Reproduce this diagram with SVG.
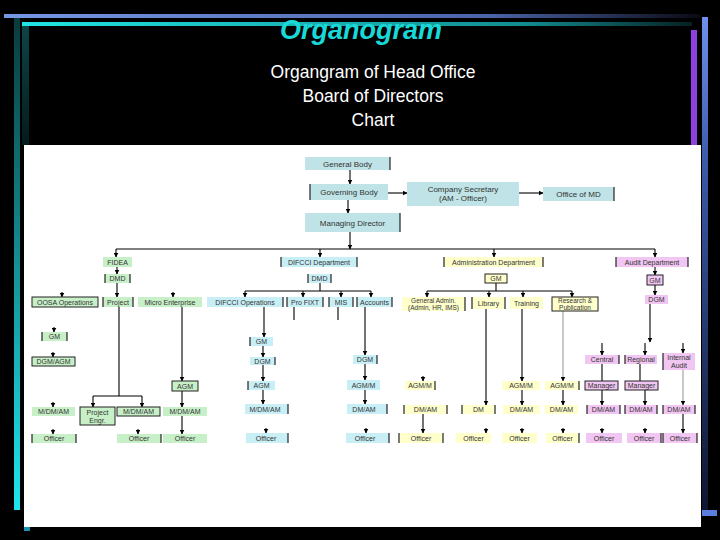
<svg xmlns="http://www.w3.org/2000/svg" width="720" height="540" viewBox="0 0 720 540">
<style>
.t{fill:#bfe3e6}.g{fill:#c8f0c8}.b{fill:#c8eef6}.y{fill:#ffffcc}.p{fill:#f2c6f2}
.bx{stroke:#222;stroke-width:1}
.e{stroke:#222;stroke-width:1.2}
text{font-family:"Liberation Sans",Arial,sans-serif}
.l{font-size:7px;fill:#333;text-anchor:middle}
.l8{font-size:8px;fill:#333;text-anchor:middle}
.l6{font-size:6.5px;fill:#333;text-anchor:middle}
.c{stroke:#000;stroke-width:1.1;fill:none}
.gr{stroke:#777;stroke-width:0.8;fill:none}
.a{marker-end:url(#ah)}
</style>
<defs>
<marker id="ah" markerWidth="5" markerHeight="5" refX="4.5" refY="2.5" orient="auto" markerUnits="userSpaceOnUse"><path d="M0,0 L5,2.5 L0,5 z" fill="#000"/></marker>
<linearGradient id="gTop" x1="0" y1="0" x2="1" y2="0"><stop offset="0" stop-color="#7597e6"/><stop offset="0.7" stop-color="#4a64a8"/><stop offset="1" stop-color="#0a0a14"/></linearGradient>
<linearGradient id="gCy" x1="0" y1="0" x2="1" y2="0"><stop offset="0" stop-color="#20e4e4"/><stop offset="0.75" stop-color="#128c90"/><stop offset="1" stop-color="#062022"/></linearGradient>
<linearGradient id="gLeft" x1="0" y1="0" x2="0" y2="1"><stop offset="0" stop-color="#0a3a3c"/><stop offset="1" stop-color="#1ee6ee"/></linearGradient>
<linearGradient id="gIn" x1="0" y1="0" x2="0" y2="1"><stop offset="0" stop-color="#0e4446"/><stop offset="1" stop-color="#051a1c"/></linearGradient>
<linearGradient id="gRight" x1="0" y1="0" x2="0" y2="1"><stop offset="0" stop-color="#6f90ec"/><stop offset="0.3" stop-color="#3a5aa8"/><stop offset="1" stop-color="#0e1630"/></linearGradient>
</defs>
<rect x="0" y="0" width="720" height="540" fill="#000"/>
<g id="frame">
<rect x="4" y="14" width="696" height="4" fill="url(#gTop)"/>
<rect x="22" y="22" width="670" height="4" fill="url(#gCy)"/>
<rect x="14" y="18" width="6" height="492" fill="url(#gLeft)"/>
<rect x="22" y="26" width="7" height="119" fill="url(#gIn)"/>
<rect x="691" y="30" width="6" height="115" fill="#9040e0"/>
<rect x="702" y="17" width="6" height="493" fill="url(#gRight)"/>
<rect x="702" y="510" width="15" height="6" fill="#5a7ee0"/>
<rect x="24" y="527" width="6" height="4" fill="#1a8fb0"/>
<rect x="24" y="145" width="677" height="382" fill="#fff"/>
</g>
<g id="titles">
<text x="361" y="39" font-family="'DejaVu Sans',Verdana,sans-serif" font-size="27" font-weight="bold" font-style="italic" fill="#19d8d8" text-anchor="middle">Organogram</text>
<text x="373" y="78" font-size="17.5" fill="#fff" text-anchor="middle">Organgram of Head Office</text>
<text x="373" y="102" font-size="17.5" fill="#fff" text-anchor="middle">Board of Directors</text>
<text x="373" y="126" font-size="17.5" fill="#fff" text-anchor="middle">Chart</text>
</g>
<g id="connectors">
<path class="c a" d="M350,170 V184"/>
<path class="c a" d="M388,193 H407"/>
<path class="c a" d="M519,193 H543"/>
<path class="c a" d="M348,200 V213"/>
<path class="c a" d="M350,232 V249"/>
<path class="c" d="M116,249 H655"/>
<path class="c a" d="M116,249 V257"/>
<path class="c a" d="M320,249 V257"/>
<path class="c a" d="M494,249 V257"/>
<path class="c a" d="M655,249 V257"/>
<path class="c a" d="M117,267 V274"/>
<path class="c a" d="M117,283 V297"/>
<path class="c a" d="M62,292 V297"/>
<path class="c a" d="M173,292 V297"/>
<path class="c" d="M320,283 V291 M245,291 H371"/>
<path class="c a" d="M245,291 V297"/>
<path class="c a" d="M303,291 V297"/>
<path class="c a" d="M341,291 V297"/>
<path class="c a" d="M371,291 V297"/>
<path class="c" d="M496,283 V291 M427,291 H572"/>
<path class="c a" d="M427,291 V297"/>
<path class="c a" d="M489,291 V297"/>
<path class="c a" d="M523,291 V297"/>
<path class="c a" d="M572,291 V297"/>
<path class="c a" d="M655,267 V275"/>
<path class="c a" d="M655,285 V295"/>
<path class="c a" d="M54,327 V332"/>
<path class="c a" d="M53,352 V357"/>
<path class="c a" d="M53,402 V407"/>
<path class="c a" d="M53,429 V434"/>
<path class="c" d="M119,307 V396 M93,396 H142"/>
<path class="c a" d="M93,396 V407"/>
<path class="c a" d="M142,396 V407"/>
<path class="c a" d="M138,429 V434"/>
<path class="c a" d="M182,307 V381"/>
<path class="c a" d="M182,391 V407"/>
<path class="c a" d="M182,416 V434"/>
<path class="c a" d="M264,307 V337"/>
<path class="c a" d="M263,346 V357"/>
<path class="c a" d="M263,365 V381"/>
<path class="c a" d="M263,390 V404"/>
<path class="c a" d="M266,428 V433"/>
<path class="c" d="M294,307 V320 M338,307 V320"/>
<path class="c a" d="M365,307 V355"/>
<path class="c a" d="M365,364 V380"/>
<path class="c a" d="M365,390 V404"/>
<path class="c a" d="M366,428 V433"/>
<path class="c a" d="M423,376 V381"/>
<path class="c a" d="M423,414 V433"/>
<path class="c a" d="M486,309 V405"/>
<path class="c a" d="M486,428 V433"/>
<path class="c a" d="M522,309 V381"/>
<path class="c a" d="M522,390 V405"/>
<path class="c a" d="M522,428 V433"/>
<path class="gr a" d="M563,311 V381"/>
<path class="c a" d="M563,390 V405"/>
<path class="c a" d="M563,428 V433"/>
<path class="c a" d="M650,304 V342"/>
<path class="c a" d="M602,343 V355"/>
<path class="c a" d="M645,343 V355"/>
<path class="c a" d="M683,343 V353"/>
<path class="c" d="M602,364 V381 M640,364 V381"/>
<path class="c a" d="M602,390 V405"/>
<path class="c a" d="M645,390 V405"/>
<path class="gr a" d="M683,370 V405"/>
<path class="c a" d="M602,428 V433"/>
<path class="c a" d="M645,428 V433"/>
<path class="c a" d="M683,414 V433"/>
</g>
<g id="n-general"><rect class="t" x="305" y="157" width="85" height="13"/><line class="e" x1="390" y1="157" x2="390" y2="170"/><text class="l8" x="347.5" y="166.5">General Body</text></g>
<g id="n-governing"><rect class="t" x="310" y="184" width="78" height="16"/><line class="e" x1="310" y1="184" x2="310" y2="200"/><text class="l8" x="349" y="195">Governing Body</text></g>
<g id="n-cs"><rect class="t" x="407" y="182" width="112" height="24"/><text class="l8" x="463" y="192">Company Secretary</text><text class="l8" x="463" y="201">(AM - Officer)</text></g>
<g id="n-omd"><rect class="t" x="543" y="187" width="71" height="14"/><line class="e" x1="614" y1="187" x2="614" y2="201"/><text class="l8" x="578.5" y="197">Office of MD</text></g>
<g id="n-md"><rect class="t" x="305" y="213" width="95" height="19"/><line class="e" x1="400" y1="213" x2="400" y2="232"/><text class="l8" x="352.5" y="225.5">Managing Director</text></g>
<g id="n-fidea"><rect class="g" x="103" y="257" width="29" height="10"/><text class="l" x="117.5" y="264.5">FIDEA</text></g>
<g id="n-difcci-dept"><rect class="b" x="281" y="257" width="76" height="10"/><line class="e" x1="281" y1="257" x2="281" y2="267"/><line class="e" x1="357" y1="257" x2="357" y2="267"/><text class="l" x="319" y="264.5">DIFCCI Department</text></g>
<g id="n-admin-dept"><rect class="y" x="444" y="257" width="99" height="10"/><line class="e" x1="444" y1="257" x2="444" y2="267"/><line class="e" x1="543" y1="257" x2="543" y2="267"/><text class="l" x="493.5" y="264.5">Administration Department</text></g>
<g id="n-audit-dept"><rect class="p" x="616" y="257" width="72" height="10"/><line class="e" x1="616" y1="257" x2="616" y2="267"/><line class="e" x1="688" y1="257" x2="688" y2="267"/><text class="l" x="652" y="264.5">Audit Department</text></g>
<g id="n-dmd-g"><rect class="g" x="105" y="274" width="25" height="9"/><line class="e" x1="105" y1="274" x2="105" y2="283"/><line class="e" x1="130" y1="274" x2="130" y2="283"/><text class="l" x="117.5" y="281">DMD</text></g>
<g id="n-dmd-b"><rect class="b" x="308" y="274" width="23" height="9"/><line class="e" x1="308" y1="274" x2="308" y2="283"/><line class="e" x1="331" y1="274" x2="331" y2="283"/><text class="l" x="319.5" y="281">DMD</text></g>
<g id="n-gm-y"><rect class="y bx" x="485" y="274" width="22" height="9"/><text class="l" x="496" y="281">GM</text></g>
<g id="n-gm-p"><rect class="p bx" x="647" y="275" width="16" height="10"/><text class="l" x="655" y="282.5">GM</text></g>
<g id="n-oosa"><rect class="g bx" x="32" y="297" width="66" height="10"/><text class="l" x="65" y="304.5">OOSA Operations</text></g>
<g id="n-project"><rect class="g" x="103" y="297" width="30" height="10"/><line class="e" x1="103" y1="297" x2="103" y2="307"/><line class="e" x1="133" y1="297" x2="133" y2="307"/><text class="l" x="118" y="304.5">Project</text></g>
<g id="n-micro"><rect class="g" x="138" y="297" width="64" height="10"/><text class="l" x="170" y="304.5">Micro Enterprise</text></g>
<g id="n-difcci-ops"><rect class="b" x="207" y="297" width="76" height="10"/><line class="e" x1="283" y1="297" x2="283" y2="307"/><text class="l" x="245" y="304.5">DIFCCI Operations</text></g>
<g id="n-profixt"><rect class="b" x="287" y="297" width="36" height="10"/><line class="e" x1="287" y1="297" x2="287" y2="307"/><line class="e" x1="323" y1="297" x2="323" y2="307"/><text class="l" x="305" y="304.5">Pro FIXT</text></g>
<g id="n-mis"><rect class="b" x="329" y="297" width="24" height="10"/><line class="e" x1="329" y1="297" x2="329" y2="307"/><line class="e" x1="353" y1="297" x2="353" y2="307"/><text class="l" x="341" y="304.5">MIS</text></g>
<g id="n-accounts"><rect class="b" x="357" y="297" width="35" height="10"/><line class="e" x1="357" y1="297" x2="357" y2="307"/><line class="e" x1="392" y1="297" x2="392" y2="307"/><text class="l" x="374.5" y="304.5">Accounts</text></g>
<g id="n-genadmin"><rect class="y" x="402" y="297" width="63" height="14"/><line class="e" x1="465" y1="297" x2="465" y2="311"/><text class="l6" x="433.5" y="303">General Admin.</text><text class="l6" x="433.5" y="310">(Admin, HR, IMS)</text></g>
<g id="n-library"><rect class="y" x="472" y="297" width="33" height="12"/><line class="e" x1="472" y1="297" x2="472" y2="309"/><line class="e" x1="505" y1="297" x2="505" y2="309"/><text class="l" x="488.5" y="305.5">Library</text></g>
<g id="n-training"><rect class="y" x="510" y="297" width="33" height="12"/><text class="l" x="526.5" y="305.5">Training</text></g>
<g id="n-research"><rect class="y bx" x="552" y="297" width="46" height="14"/><text class="l6" x="575" y="303">Research &amp;</text><text class="l6" x="575" y="310">Publication</text></g>
<g id="n-dgm-p"><rect class="p" x="645" y="295" width="23" height="9"/><text class="l" x="656.5" y="302">DGM</text></g>
<g id="n-gm-g"><rect class="g" x="42" y="332" width="25" height="9"/><line class="e" x1="42" y1="332" x2="42" y2="341"/><line class="e" x1="67" y1="332" x2="67" y2="341"/><text class="l" x="54.5" y="339">GM</text></g>
<g id="n-dgmagm-g"><rect class="g bx" x="32" y="357" width="43" height="9"/><text class="l" x="53.5" y="364">DGM/AGM</text></g>
<g id="n-mdm-g1"><rect class="g" x="32" y="407" width="43" height="9"/><text class="l" x="53.5" y="414">M/DM/AM</text></g>
<g id="n-off-g1"><rect class="g" x="32" y="434" width="44" height="9"/><line class="e" x1="32" y1="434" x2="32" y2="443"/><line class="e" x1="76" y1="434" x2="76" y2="443"/><text class="l" x="54" y="441">Officer</text></g>
<g id="n-projeng"><rect class="g bx" x="80" y="407" width="35" height="18"/><text class="l" x="97.5" y="414.5">Project</text><text class="l" x="97.5" y="422.5">Engr.</text></g>
<g id="n-mdm-g2"><rect class="g bx" x="117" y="407" width="43" height="9"/><text class="l" x="138.5" y="414">M/DM/AM</text></g>
<g id="n-off-g2"><rect class="g" x="117" y="434" width="44" height="9"/><line class="e" x1="161" y1="434" x2="161" y2="443"/><text class="l" x="139" y="441">Officer</text></g>
<g id="n-agm-g"><rect class="g bx" x="172" y="381" width="26" height="10"/><text class="l" x="185" y="388.5">AGM</text></g>
<g id="n-mdm-g3"><rect class="g" x="163" y="407" width="44" height="9"/><text class="l" x="185" y="414">M/DM/AM</text></g>
<g id="n-off-g3"><rect class="g" x="163" y="434" width="44" height="9"/><text class="l" x="185" y="441">Officer</text></g>
<g id="n-gm-b"><rect class="b" x="250" y="337" width="23" height="9"/><line class="e" x1="250" y1="337" x2="250" y2="346"/><text class="l" x="261.5" y="344">GM</text></g>
<g id="n-dgm-b1"><rect class="b" x="250" y="357" width="25" height="8"/><line class="e" x1="275" y1="357" x2="275" y2="365"/><text class="l" x="262.5" y="363.5">DGM</text></g>
<g id="n-agm-b"><rect class="b" x="248" y="381" width="27" height="9"/><line class="e" x1="248" y1="381" x2="248" y2="390"/><text class="l" x="261.5" y="388">AGM</text></g>
<g id="n-mdm-b"><rect class="b" x="245" y="404" width="43" height="10"/><line class="e" x1="288" y1="404" x2="288" y2="414"/><text class="l" x="265" y="411.5">M/DM/AM</text></g>
<g id="n-off-b1"><rect class="b" x="246" y="433" width="42" height="10"/><line class="e" x1="288" y1="433" x2="288" y2="443"/><text class="l" x="266" y="440.5">Officer</text></g>
<g id="n-dgm-b2"><rect class="b" x="353" y="355" width="24" height="9"/><line class="e" x1="377" y1="355" x2="377" y2="364"/><text class="l" x="365" y="362">DGM</text></g>
<g id="n-agmm-b"><rect class="b" x="347" y="380" width="33" height="10"/><text class="l" x="363.5" y="387.5">AGM/M</text></g>
<g id="n-dmam-b"><rect class="b" x="347" y="404" width="40" height="10"/><line class="e" x1="387" y1="404" x2="387" y2="414"/><text class="l" x="364" y="411.5">DM/AM</text></g>
<g id="n-off-b2"><rect class="b" x="346" y="433" width="43" height="10"/><line class="e" x1="389" y1="433" x2="389" y2="443"/><text class="l" x="365" y="440.5">Officer</text></g>
<g id="n-agmm-y1"><rect class="y" x="405" y="381" width="30" height="9"/><line class="e" x1="435" y1="381" x2="435" y2="390"/><text class="l" x="420" y="388">AGM/M</text></g>
<g id="n-dmam-y1"><rect class="y" x="404" y="405" width="43" height="9"/><line class="e" x1="404" y1="405" x2="404" y2="414"/><line class="e" x1="447" y1="405" x2="447" y2="414"/><text class="l" x="425.5" y="412">DM/AM</text></g>
<g id="n-off-y1"><rect class="y" x="399" y="433" width="44" height="10"/><line class="e" x1="399" y1="433" x2="399" y2="443"/><line class="e" x1="443" y1="433" x2="443" y2="443"/><text class="l" x="421" y="440.5">Officer</text></g>
<g id="n-dm-y"><rect class="y" x="462" y="405" width="33" height="9"/><line class="e" x1="462" y1="405" x2="462" y2="414"/><line class="e" x1="495" y1="405" x2="495" y2="414"/><text class="l" x="478.5" y="412">DM</text></g>
<g id="n-off-y2"><rect class="y" x="456" y="433" width="35" height="10"/><text class="l" x="473.5" y="440.5">Officer</text></g>
<g id="n-agmm-y2"><rect class="y" x="502" y="381" width="38" height="9"/><text class="l" x="521" y="388">AGM/M</text></g>
<g id="n-dmam-y2"><rect class="y" x="503" y="405" width="37" height="9"/><text class="l" x="521.5" y="412">DM/AM</text></g>
<g id="n-off-y3"><rect class="y" x="502" y="433" width="35" height="10"/><text class="l" x="519.5" y="440.5">Officer</text></g>
<g id="n-agmm-y3"><rect class="y" x="545" y="381" width="34" height="9"/><line class="e" x1="579" y1="381" x2="579" y2="390"/><text class="l" x="562" y="388">AGM/M</text></g>
<g id="n-dmam-y3"><rect class="y" x="545" y="405" width="33" height="9"/><text class="l" x="561.5" y="412">DM/AM</text></g>
<g id="n-off-y4"><rect class="y" x="546" y="433" width="33" height="10"/><line class="e" x1="579" y1="433" x2="579" y2="443"/><text class="l" x="562.5" y="440.5">Officer</text></g>
<g id="n-central"><rect class="p" x="585" y="355" width="34" height="9"/><line class="e" x1="619" y1="355" x2="619" y2="364"/><text class="l" x="602" y="362">Central</text></g>
<g id="n-regional"><rect class="p" x="625" y="355" width="32" height="9"/><line class="e" x1="625" y1="355" x2="625" y2="364"/><text class="l" x="641" y="362">Regional</text></g>
<g id="n-intaudit"><rect class="p" x="663" y="353" width="32" height="17"/><line class="e" x1="663" y1="353" x2="663" y2="370"/><text class="l" x="679" y="360">Internal</text><text class="l" x="679" y="367.5">Audit</text></g>
<g id="n-mgr1"><rect class="p bx" x="585" y="381" width="33" height="9"/><text class="l" x="601.5" y="388">Manager</text></g>
<g id="n-mgr2"><rect class="p bx" x="625" y="381" width="33" height="9"/><text class="l" x="641.5" y="388">Manager</text></g>
<g id="n-dmam-p1"><rect class="p" x="587" y="405" width="33" height="9"/><line class="e" x1="587" y1="405" x2="587" y2="414"/><line class="e" x1="620" y1="405" x2="620" y2="414"/><text class="l" x="603.5" y="412">DM/AM</text></g>
<g id="n-dmam-p2"><rect class="p" x="625" y="405" width="32" height="9"/><line class="e" x1="625" y1="405" x2="625" y2="414"/><line class="e" x1="657" y1="405" x2="657" y2="414"/><text class="l" x="641" y="412">DM/AM</text></g>
<g id="n-dmam-p3"><rect class="p" x="663" y="405" width="32" height="9"/><line class="e" x1="663" y1="405" x2="663" y2="414"/><line class="e" x1="695" y1="405" x2="695" y2="414"/><text class="l" x="679" y="412">DM/AM</text></g>
<g id="n-off-p1"><rect class="p" x="586" y="433" width="36" height="10"/><text class="l" x="604" y="440.5">Officer</text></g>
<g id="n-off-p2"><rect class="p" x="627" y="433" width="34" height="10"/><line class="e" x1="661" y1="433" x2="661" y2="443"/><text class="l" x="644" y="440.5">Officer</text></g>
<g id="n-off-p3"><rect class="p" x="663" y="433" width="34" height="10"/><line class="e" x1="663" y1="433" x2="663" y2="443"/><line class="e" x1="697" y1="433" x2="697" y2="443"/><text class="l" x="680" y="440.5">Officer</text></g>
</svg>
